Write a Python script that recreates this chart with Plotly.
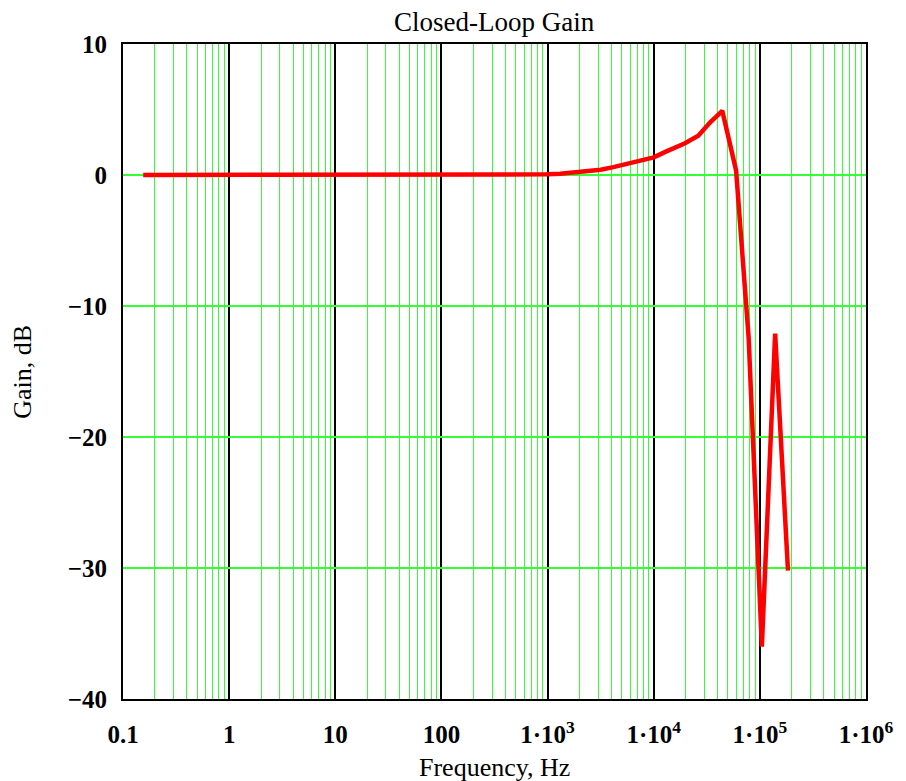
import plotly.graph_objects as go

# Closed-loop frequency response samples
freq_hz = [0.155, 1, 10, 100, 300, 1000, 1318, 1778, 2344, 3162, 4169, 5623,
           7413, 10000, 13183, 19498, 26303, 33884, 44259, 59704, 78343,
           104472, 139316, 184077]
gain_db = [0, 0, 0, 0, 0, 0.05, 0.1, 0.2, 0.3, 0.4, 0.6, 0.85,
           1.1, 1.35, 1.8, 2.4, 3.0, 4.0, 4.9, 0.35, -12.4,
           -36.0, -12.1, -30.2]

x_tickvals = [0.1, 1, 10, 100, 1e3, 1e4, 1e5, 1e6]
x_ticktext = ["0.1", "1", "10", "100", "1\u00b710<sup>3</sup>",
              "1\u00b710<sup>4</sup>", "1\u00b710<sup>5</sup>", "1\u00b710<sup>6</sup>"]
y_tickvals = [10, 0, -10, -20, -30, -40]
y_ticktext = ["10", "0", "\u221210", "\u221220", "\u221230", "\u221240"]

GREEN = "#33ff33"
SERIF = "Liberation Serif, Times New Roman, serif"

fig = go.Figure()
fig.add_trace(go.Scatter(
    x=freq_hz, y=gain_db, mode="lines",
    line=dict(color="#ff0000", width=4.5),
    showlegend=False, hoverinfo="skip",
))

fig.update_layout(
    width=906, height=781,
    margin=dict(l=123, r=38, t=44, b=82),
    paper_bgcolor="white", plot_bgcolor="white",
    font=dict(family=SERIF, color="black"),
    xaxis=dict(
        type="log", range=[-1, 6],
        tickmode="array", tickvals=x_tickvals, ticktext=x_ticktext,
        tickfont=dict(family=SERIF, size=25, color="black", weight="bold"),
        ticks="", ticklabelstandoff=12,
        showgrid=True, gridcolor="black", gridwidth=2,
        minor=dict(dtick="D1", showgrid=True, gridcolor=GREEN, gridwidth=1.3, ticks=""),
        showline=True, linecolor="black", linewidth=2, mirror=True,
        zeroline=False,
    ),
    yaxis=dict(
        range=[-40, 10],
        tickmode="array", tickvals=y_tickvals, ticktext=y_ticktext,
        tickfont=dict(family=SERIF, size=25, color="black", weight="bold"),
        ticks="", ticklabelstandoff=9,
        showgrid=True, gridcolor=GREEN, gridwidth=1.5,
        showline=True, linecolor="black", linewidth=2, mirror=True,
        zeroline=False,
    ),
    annotations=[
        dict(text="Closed-Loop Gain", xref="paper", yref="paper",
             x=0.5, y=1 + 22 / 655, xanchor="center", yanchor="middle",
             showarrow=False, font=dict(family=SERIF, size=27, color="black")),
        dict(text="Frequency, Hz", xref="paper", yref="paper",
             x=0.5, y=-68 / 655, xanchor="center", yanchor="middle",
             showarrow=False, font=dict(family=SERIF, size=26, color="black")),
        dict(text="Gain, dB", xref="paper", yref="paper",
             x=-101 / 745, y=0.5, xanchor="center", yanchor="middle",
             textangle=-90,
             showarrow=False, font=dict(family=SERIF, size=26, color="black")),
    ],
)

fig.write_html("out.html")
